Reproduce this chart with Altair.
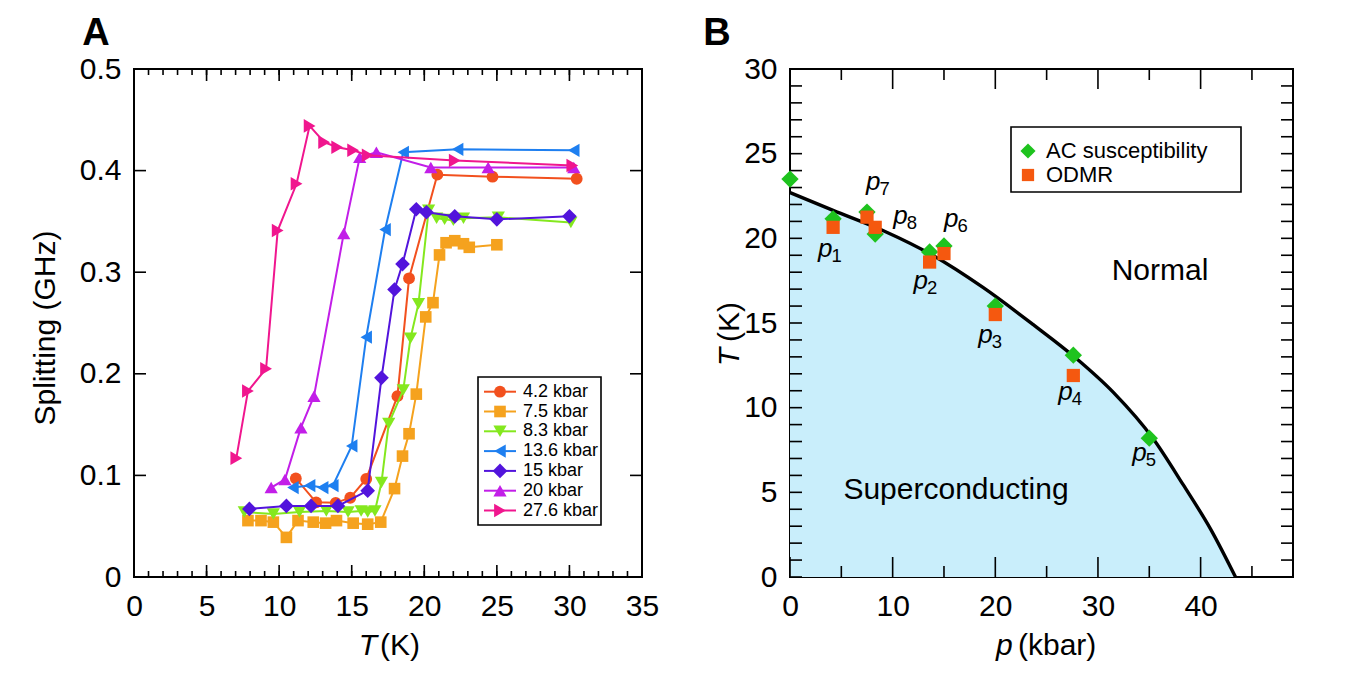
import altair as alt
import pandas as pd

FONT = "Liberation Sans"

# ---------------- Panel A: NV splitting versus temperature ----------------
pressures_a = ["4.2 kbar", "7.5 kbar", "8.3 kbar", "13.6 kbar", "15 kbar", "20 kbar", "27.6 kbar"]

temp_4p2 = [11.15, 12.55, 13.9, 14.9, 16.0, 18.15, 18.95, 20.9, 24.7, 30.5]
split_4p2 = [0.097, 0.0735, 0.073, 0.078, 0.0965, 0.178, 0.294, 0.396, 0.394, 0.392]

temp_7p5 = [7.85, 8.75, 9.6, 10.5, 11.3, 12.35, 13.2, 13.95, 15.1, 16.1, 17.0, 17.95,
            18.5, 18.95, 19.45, 20.1, 20.6, 21.05, 21.5, 22.1, 22.7, 23.1, 25.0]
split_7p5 = [0.0555, 0.0555, 0.054, 0.039, 0.0555, 0.054, 0.053, 0.0555, 0.053, 0.052, 0.054, 0.087,
             0.119, 0.141, 0.180, 0.256, 0.270, 0.317, 0.329, 0.331, 0.328, 0.3245, 0.327]

temp_8p3 = [7.6, 9.6, 11.4, 13.25, 14.75, 15.65, 16.1, 16.6, 17.05, 17.55, 18.55, 19.05, 19.6,
            20.3, 20.85, 21.4, 22.0, 22.7, 25.1, 30.1]
split_8p3 = [0.064, 0.062, 0.064, 0.065, 0.064, 0.065, 0.064, 0.065, 0.093, 0.151, 0.184, 0.235, 0.269,
             0.361, 0.353, 0.352, 0.351, 0.353, 0.354, 0.349]

temp_13p6 = [10.95, 12.1, 13.0, 13.7, 15.0, 16.0, 17.3, 18.55, 22.3, 30.3]
split_13p6 = [0.088, 0.090, 0.088, 0.090, 0.129, 0.236, 0.342, 0.418, 0.421, 0.420]

temp_15 = [7.95, 10.5, 12.2, 14.05, 16.1, 17.05, 17.95, 18.5, 19.45, 20.15, 22.1, 25.0, 30.0]
split_15 = [0.067, 0.070, 0.070, 0.070, 0.085, 0.196, 0.283, 0.308, 0.362, 0.359, 0.355, 0.352, 0.355]

temp_20 = [9.45, 10.4, 11.5, 12.4, 14.45, 15.55, 16.7, 20.45, 24.4, 30.3]
split_20 = [0.088, 0.096, 0.147, 0.178, 0.338, 0.413, 0.418, 0.403, 0.403, 0.403]

temp_27p6 = [7.05, 7.85, 9.1, 9.9, 11.2, 12.1, 13.1, 14.0, 15.1, 16.1, 22.1, 30.2]
split_27p6 = [0.117, 0.183, 0.205, 0.341, 0.387, 0.444, 0.428, 0.423, 0.420, 0.415, 0.410, 0.405]

temps_a = [temp_4p2, temp_7p5, temp_8p3, temp_13p6, temp_15, temp_20, temp_27p6]
splits_a = [split_4p2, split_7p5, split_8p3, split_13p6, split_15, split_20, split_27p6]

colors_a = ["#F2501E", "#F5A21E", "#84E81E", "#1E7FF0", "#5214DC", "#C21EE8", "#F0168E"]
shapes_a = ["circle", "square", "triangle-down", "triangle-left", "diamond", "triangle-up", "triangle-right"]
sizes_a = [140, 135, 175, 175, 215, 175, 185]

temp_ticks_minor = list(range(0, 36))
temp_ticks_major = list(range(0, 36, 5))
split_ticks = [0, 0.1, 0.2, 0.3, 0.4, 0.5]

# ---------------- Panel B: phase diagram ----------------
p_ac = [0, 4.2, 7.5, 8.3, 13.6, 15, 20, 27.6, 35]
tc_ac = [23.5, 21.15, 21.55, 20.25, 19.2, 19.55, 16.0, 13.1, 8.2]
p_odmr = [4.2, 7.5, 8.3, 13.6, 15, 20, 27.6]
tc_odmr = [20.65, 21.25, 20.65, 18.6, 19.1, 15.5, 11.9]
point_names = ["1", "7", "8", "2", "6", "3", "4", "5"]
point_p = [4.2, 7.5, 8.3, 13.6, 15, 20, 27.6, 35]
point_tc = [21.15, 21.55, 20.25, 19.2, 19.55, 16.0, 13.1, 8.2]

boundary_p = [0, 4.2, 9.1, 13.9, 18.8, 23.7, 27.9, 31.5, 35.4, 38.3, 41.0, 43.4]
boundary_t = [22.7, 21.65, 20.45, 19.0, 17.1, 14.9, 12.9, 10.9, 8.15, 5.45, 2.8, 0]

p_ticks_major = [0, 10, 20, 30, 40]
p_ticks_minor = [5, 15, 25, 35, 45]
t_ticks = list(range(0, 31))
t_ticks_major = list(range(0, 31, 5))

# ---------------- layout constants ----------------
WA, WB, H = 508, 503, 508
LINE_W = 1.6
one = pd.DataFrame({"k": [0]})


def text_at(x, y, txt, size, **kw):
    return alt.Chart(one).mark_text(font=FONT, fontSize=size, color="black", **kw).encode(
        x=alt.value(x), y=alt.value(y), text=alt.value(txt))


def x_frame_ticks(vals, length, enc_x, h):
    df = pd.DataFrame({"v": vals})
    bottom = alt.Chart(df).mark_rule(color="black", strokeWidth=LINE_W).encode(
        x=enc_x("v"), y=alt.value(h), y2=alt.value(h - length))
    top = alt.Chart(df).mark_rule(color="black", strokeWidth=LINE_W).encode(
        x=enc_x("v"), y=alt.value(0), y2=alt.value(length))
    return [bottom, top]


def y_frame_ticks(vals, length, enc_y, w):
    df = pd.DataFrame({"v": vals})
    left = alt.Chart(df).mark_rule(color="black", strokeWidth=LINE_W).encode(
        y=enc_y("v"), x=alt.value(0), x2=alt.value(length))
    right = alt.Chart(df).mark_rule(color="black", strokeWidth=LINE_W).encode(
        y=enc_y("v"), x=alt.value(w), x2=alt.value(w - length))
    return [left, right]


axis_style = dict(ticks=False, domain=False, grid=False, labelFontSize=30, labelFont=FONT,
                  labelColor="black", labelFlush=False, labelOverlap=False)

# ---------------- Panel A chart ----------------
xs_a = alt.Scale(domain=[0, 35], nice=False, zero=False)
ys_a = alt.Scale(domain=[0, 0.5], nice=False, zero=False)
axis_ax = alt.Axis(values=temp_ticks_major, labelPadding=14, **axis_style)
axis_ay = alt.Axis(values=split_ticks, labelPadding=13,
                   labelExpr="datum.value == 0 ? '0' : format(datum.value, '.1f')", **axis_style)


def enc_ax(f):
    return alt.X(f + ":Q", scale=xs_a, axis=axis_ax, title=None)


def enc_ay(f):
    return alt.Y(f + ":Q", scale=ys_a, axis=axis_ay, title=None)


layers_a = []
for i, name in enumerate(pressures_a):
    df = pd.DataFrame({"T": temps_a[i], "S": splits_a[i]})
    base = alt.Chart(df).encode(x=enc_ax("T"), y=enc_ay("S"))
    layers_a.append(base.mark_line(color=colors_a[i], strokeWidth=2))
    layers_a.append(base.mark_point(shape=shapes_a[i], size=sizes_a[i], filled=True,
                                    color=colors_a[i], opacity=1))

layers_a += x_frame_ticks(temp_ticks_minor, 6, enc_ax, H)
layers_a += x_frame_ticks(temp_ticks_major, 12, enc_ax, H)
layers_a += y_frame_ticks(split_ticks, 12, enc_ay, WA)

# legend box for panel A
layers_a.append(alt.Chart(one).mark_rect(fill="white", stroke="black", strokeWidth=1.6).encode(
    x=alt.value(344), x2=alt.value(467), y=alt.value(308), y2=alt.value(456)))
for i, name in enumerate(pressures_a):
    yy = 322.7 + 19.8 * i
    layers_a.append(alt.Chart(one).mark_rule(color=colors_a[i], strokeWidth=2).encode(
        x=alt.value(350), x2=alt.value(382), y=alt.value(yy)))
    layers_a.append(alt.Chart(one).mark_point(shape=shapes_a[i], size=sizes_a[i], filled=True,
                                              color=colors_a[i], opacity=1).encode(
        x=alt.value(366), y=alt.value(yy)))
    layers_a.append(text_at(389, yy, name, 18, align="left", baseline="middle"))

# axis titles and panel letter
layers_a.append(text_at(-88, 259, "Splitting (GHz)", 30, angle=270, align="center", baseline="middle"))
layers_a.append(text_at(243, 586, "T", 30, fontStyle="italic", align="right", baseline="alphabetic"))
layers_a.append(text_at(246, 586, "(K)", 30, align="left", baseline="alphabetic"))
layers_a.append(text_at(-38, -35, "A", 38, fontWeight="bold", align="center", baseline="middle"))

chart_a = alt.layer(*layers_a).properties(width=WA, height=H)

# ---------------- Panel B chart ----------------
xs_b = alt.Scale(domain=[0, 49], nice=False, zero=False)
ys_b = alt.Scale(domain=[0, 30], nice=False, zero=False)
axis_bx = alt.Axis(values=p_ticks_major, labelPadding=14, **axis_style)
axis_by = alt.Axis(values=t_ticks_major, labelPadding=13, **axis_style)


def enc_bx(f):
    return alt.X(f + ":Q", scale=xs_b, axis=axis_bx, title=None)


def enc_by(f):
    return alt.Y(f + ":Q", scale=ys_b, axis=axis_by, title=None)


curve = pd.DataFrame({"p": boundary_p, "t": boundary_t})
ac = pd.DataFrame({"p": p_ac, "t": tc_ac})
odmr = pd.DataFrame({"p": p_odmr, "t": tc_odmr})

layers_b = [
    alt.Chart(curve).mark_area(color="#C9EEFB", interpolate="monotone").encode(x=enc_bx("p"), y=enc_by("t")),
    alt.Chart(curve).mark_line(color="black", strokeWidth=3.4, interpolate="monotone").encode(
        x=enc_bx("p"), y=enc_by("t")),
]
layers_b += x_frame_ticks(p_ticks_major, 20, enc_bx, H)
layers_b += x_frame_ticks(p_ticks_minor, 11, enc_bx, H)
layers_b += y_frame_ticks(t_ticks, 12, enc_by, WB)

layers_b.append(alt.Chart(ac).mark_point(shape="diamond", size=300, filled=True, color="#1EC31E",
                                         opacity=1).encode(x=enc_bx("p"), y=enc_by("t")))
layers_b.append(alt.Chart(odmr).mark_point(shape="square", size=175, filled=True, color="#F5580F",
                                           opacity=1).encode(x=enc_bx("p"), y=enc_by("t")))

# point labels p_i, placed relative to each measured point
label_dx = [-15, -1, 18, -16, 0, -17, -15, -17]
label_dy = [38, -22, -10, 37, -19, 37, 45, 23]
for i, sub in enumerate(point_names):
    d = pd.DataFrame({"p": [point_p[i]], "t": [point_tc[i]]})
    layers_b.append(alt.Chart(d).mark_text(font=FONT, fontSize=26, fontStyle="italic", align="left",
                                           baseline="alphabetic", dx=label_dx[i], dy=label_dy[i],
                                           color="black").encode(x=enc_bx("p"), y=enc_by("t"),
                                                                 text=alt.value("p")))
    layers_b.append(alt.Chart(d).mark_text(font=FONT, fontSize=18.5, align="left",
                                           baseline="alphabetic", dx=label_dx[i] + 13.5,
                                           dy=label_dy[i] + 5, color="black").encode(
        x=enc_bx("p"), y=enc_by("t"), text=alt.value(sub)))

layers_b.append(text_at(370, 202, "Normal", 30, align="center", baseline="middle"))
layers_b.append(text_at(166, 421, "Superconducting", 30, align="center", baseline="middle"))

# legend box for panel B
layers_b.append(alt.Chart(one).mark_rect(fill="white", stroke="black", strokeWidth=1.6).encode(
    x=alt.value(221), x2=alt.value(451), y=alt.value(58), y2=alt.value(123)))
layers_b.append(alt.Chart(one).mark_point(shape="diamond", size=230, filled=True, color="#1EC31E",
                                          opacity=1).encode(x=alt.value(238), y=alt.value(82)))
layers_b.append(alt.Chart(one).mark_point(shape="square", size=150, filled=True, color="#F5580F",
                                          opacity=1).encode(x=alt.value(238), y=alt.value(106)))
layers_b.append(text_at(256, 82, "AC susceptibility", 22, align="left", baseline="middle"))
layers_b.append(text_at(256, 106, "ODMR", 22, align="left", baseline="middle"))

# axis titles and panel letter
layers_b.append(text_at(206, 586, "p", 30, fontStyle="italic", align="left", baseline="alphabetic"))
layers_b.append(text_at(228, 586, "(kbar)", 30, align="left", baseline="alphabetic"))
layers_b.append(text_at(-60, 279, "T", 30, fontStyle="italic", angle=270, align="right", baseline="middle"))
layers_b.append(text_at(-60, 273, "(K)", 30, angle=270, align="left", baseline="middle"))
layers_b.append(text_at(-73, -35, "B", 38, fontWeight="bold", align="center", baseline="middle"))

chart_b = alt.layer(*layers_b).properties(width=WB, height=H)

chart = alt.hconcat(chart_a, chart_b, spacing=42).properties(
    padding={"left": 30, "top": 14, "right": 5, "bottom": 5}
).configure(font=FONT).configure_view(stroke="black", strokeWidth=2)

chart.save("out.html", embed_options={"renderer": "svg", "actions": False})
